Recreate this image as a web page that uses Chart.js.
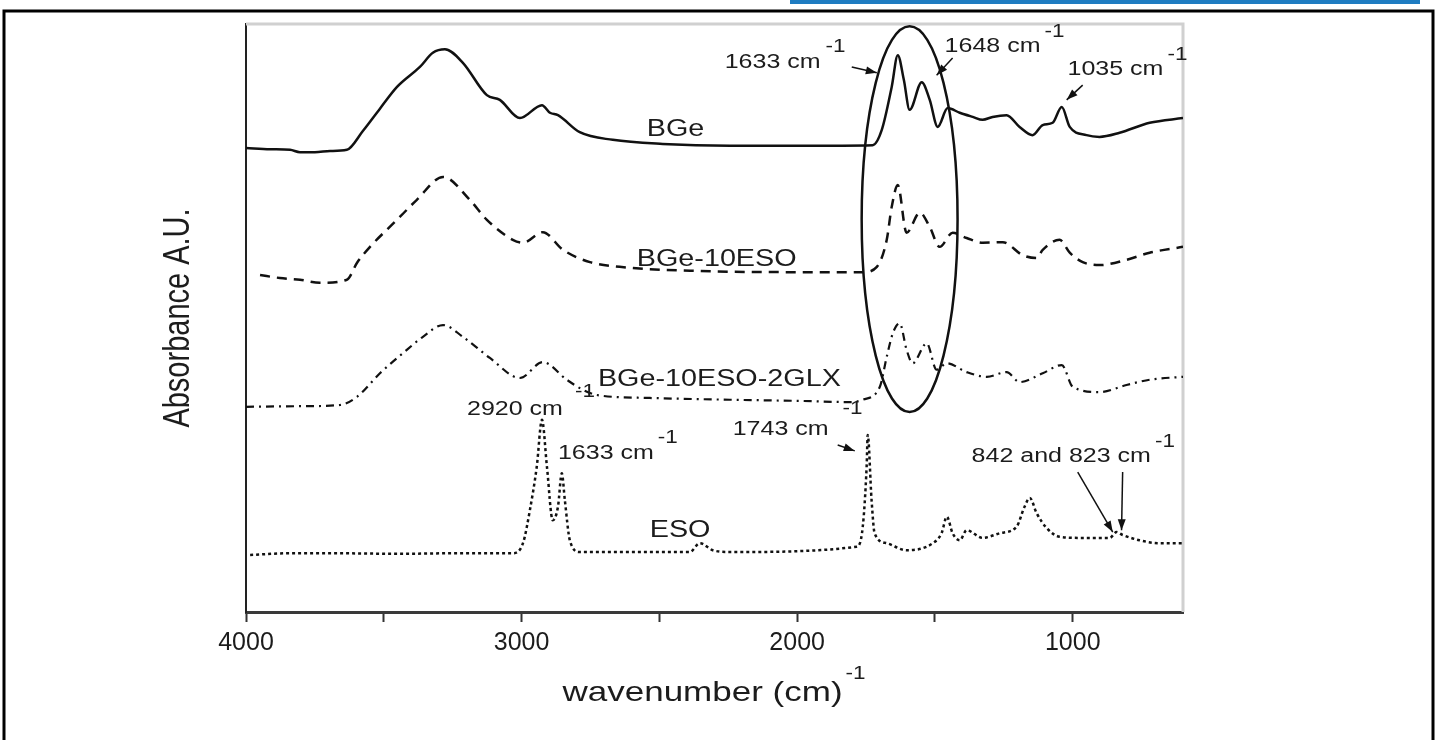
<!DOCTYPE html>
<html>
<head>
<meta charset="utf-8">
<script src="https://cdn.jsdelivr.net/npm/chart.js"></script>
<style>
html, body { margin: 0; padding: 0; background: #fff; }
#wrap { width: 1437px; height: 740px; }
</style>
</head>
<body>
<div id="wrap"><canvas id="ftir" width="1437" height="740"></canvas></div>
<script>
// FTIR spectra: wavenumber (cm-1) and stacked absorbance (A.U.)
const bgeWn  = [4000, 3913, 3840, 3804, 3750, 3695, 3634, 3576, 3514, 3452, 3369, 3322, 3278, 3213, 3126, 3079, 3006, 2926, 2897, 2868, 2789, 2669, 2488, 2244, 1991, 1726, 1693, 1657, 1635, 1613, 1592, 1548, 1519, 1490, 1454, 1410, 1363, 1327, 1291, 1240, 1193, 1146, 1109, 1073, 1040, 1011, 950, 903, 830, 721, 600];
const bgeAbs = [78.9, 78.7, 78.6, 78.2, 78.2, 78.4, 78.6, 81.8, 85.6, 89.3, 92.7, 95.1, 95.7, 93.4, 87.9, 87.1, 84.0, 86.2, 84.9, 84.5, 81.6, 80.3, 79.6, 79.3, 79.3, 79.4, 82.0, 89.3, 94.7, 90.5, 85.4, 90.1, 87.1, 82.5, 85.7, 84.9, 84.2, 83.7, 84.2, 84.5, 82.5, 81.1, 82.8, 83.2, 85.9, 82.5, 81.1, 80.8, 81.5, 83.2, 84.0];

const esoBgeWn  = [3949, 3877, 3804, 3732, 3634, 3597, 3550, 3452, 3380, 3285, 3188, 3126, 3032, 2995, 2923, 2850, 2752, 2644, 2353, 1991, 1762, 1711, 1675, 1657, 1635, 1603, 1555, 1519, 1483, 1436, 1385, 1327, 1254, 1182, 1131, 1109, 1048, 1011, 964, 903, 805, 721, 600];
const esoBgeAbs = [57.3, 56.8, 56.5, 56.0, 56.5, 59.4, 62.1, 66.7, 70.1, 74.0, 70.1, 66.7, 63.3, 62.8, 64.6, 61.6, 59.5, 58.7, 58.0, 57.8, 57.8, 58.7, 63.3, 68.9, 72.6, 64.5, 67.9, 65.5, 62.1, 64.5, 63.6, 62.8, 62.9, 60.7, 60.2, 61.6, 63.3, 61.1, 59.5, 59.0, 59.9, 61.1, 62.1];

const glxWn  = [4000, 3804, 3659, 3597, 3514, 3431, 3358, 3285, 3213, 3115, 3006, 2923, 2836, 2778, 2727, 2535, 2244, 1991, 1809, 1762, 1700, 1675, 1653, 1628, 1603, 1581, 1530, 1494, 1457, 1385, 1312, 1240, 1193, 1109, 1040, 1000, 903, 805, 721, 600];
const glxAbs = [34.9, 35.0, 35.2, 36.6, 40.6, 44.0, 46.8, 48.8, 46.8, 43.2, 39.8, 42.5, 39.5, 37.8, 36.9, 36.4, 36.1, 35.9, 35.7, 36.1, 38.3, 43.4, 47.4, 49.1, 44.6, 42.3, 45.7, 41.2, 42.3, 40.8, 40.0, 40.8, 39.1, 40.6, 42.0, 38.3, 37.4, 38.6, 39.5, 40.0];

const esoWn  = [3985, 3840, 3695, 3452, 3224, 3032, 2995, 2970, 2945, 2926, 2908, 2887, 2868, 2854, 2843, 2825, 2789, 2390, 2353, 2306, 2244, 1784, 1762, 1748, 1744, 1730, 1719, 1675, 1603, 1508, 1476, 1457, 1436, 1410, 1385, 1327, 1265, 1204, 1175, 1156, 1131, 1095, 1048, 964, 866, 841, 819, 758, 685, 600];
const esoAbs = [9.7, 10.0, 10.0, 9.9, 10.0, 10.0, 11.7, 17.3, 24.7, 32.7, 24.7, 15.6, 17.9, 23.6, 19.0, 12.2, 10.2, 10.2, 11.7, 10.5, 10.2, 11.1, 14.5, 24.7, 30.1, 19.0, 13.4, 11.7, 10.5, 11.7, 13.4, 16.2, 13.4, 12.2, 13.9, 12.6, 13.4, 14.5, 17.9, 19.4, 16.8, 14.3, 12.8, 12.6, 12.6, 13.6, 13.1, 12.2, 11.7, 11.7];

const xTickValues = [1000, 1500, 2000, 2500, 3000, 3500, 4000];
const xTickLabels = ['4000', '3000', '2000', '1000'];

// peak labels, in data units (wavenumber, absorbance)
const notes = [
    { text: '1633 cm', sup: '-1', wn: 2263, a: 93.4, size: 20, dx: 5, dy: -16 },
    { text: '1648 cm', sup: '-1', wn: 1465, a: 96.1, size: 20 },
    { text: '1035 cm', sup: '-1', wn: 1019, a: 92.2, size: 20 },
    { text: '2920 cm', sup: '-1', wn: 3198, a: 34.4, size: 20, dx: 12, dy: -18 },
    { text: '1633 cm', sup: '-1', wn: 2868, a: 27.0, size: 20 },
    { text: '1743 cm', sup: '-1', wn: 2234, a: 31.0, size: 20, dx: 14, dy: -21 },
    { text: '842 and 823 cm', sup: '-1', wn: 1367, a: 26.4, size: 20 },
    { text: 'BGe', wn: 2546, a: 82.1, size: 23 },
    { text: 'BGe-10ESO', wn: 2582, a: 59.9, size: 23 },
    { text: 'BGe-10ESO-2GLX', wn: 2723, a: 39.5, size: 23 },
    { text: 'ESO', wn: 2535, a: 13.8, size: 23 }
];
// arrows: from (wn, a) to (wn, a)
const arrows = [
    [1802, 92.7, 1711, 91.7],
    [1436, 94.2, 1494, 91.3],
    [964, 89.6, 1022, 87.1],
    [1853, 28.4, 1791, 27.4],
    [982, 23.8, 855, 13.6],
    [819, 23.8, 823, 13.9]
];
// circled amide region
const ring = { wn: 1592, a: 66.8, rwn: 174, ra: 32.8 };

const FONT = '"Liberation Sans", Arial, sans-serif';
const INK = '#1c1c1c';
const SX = 1.25; // the figure is stretched sideways

function pts(xs, ys) {
    return xs.map((x, i) => ({ x: x, y: ys[i] }));
}

function wideText(ctx, str, x, y, size, align) {
    ctx.save();
    ctx.font = size + 'px ' + FONT;
    ctx.fillStyle = INK;
    ctx.textBaseline = 'middle';
    ctx.textAlign = align || 'left';
    ctx.translate(x, y);
    ctx.scale(SX, 1);
    ctx.fillText(str, 0, 0);
    const w = ctx.measureText(str).width * SX;
    ctx.restore();
    return w;
}

const decor = {
    id: 'decor',
    beforeDraw(chart) {
        const ctx = chart.ctx;
        ctx.save();
        ctx.fillStyle = '#1f7cc1';
        ctx.fillRect(790, 0, 630, 4);
        ctx.strokeStyle = '#000';
        ctx.lineWidth = 3;
        ctx.strokeRect(4, 11, 1429, 760);
        ctx.restore();
    },
    beforeDatasetsDraw(chart) {
        const { ctx, chartArea: ca } = chart;
        ctx.save();
        ctx.strokeStyle = '#d0d0d0';
        ctx.lineWidth = 3;
        ctx.beginPath();
        ctx.moveTo(ca.left, ca.top);
        ctx.lineTo(ca.right, ca.top);
        ctx.lineTo(ca.right, ca.bottom);
        ctx.stroke();
        ctx.restore();
    },
    afterDatasetsDraw(chart) {
        const { ctx, chartArea: ca } = chart;
        const xs = chart.scales.x, ys = chart.scales.y;
        ctx.save();

        // ellipse
        const cx = xs.getPixelForValue(ring.wn), cy = ys.getPixelForValue(ring.a);
        const rx = Math.abs(xs.getPixelForValue(ring.wn + ring.rwn) - cx);
        const ry = Math.abs(ys.getPixelForValue(ring.a + ring.ra) - cy);
        ctx.strokeStyle = '#111';
        ctx.lineWidth = 2.5;
        ctx.beginPath();
        ctx.ellipse(cx, cy, rx, ry, 0, 0, Math.PI * 2);
        ctx.stroke();

        // arrows
        ctx.fillStyle = '#111';
        ctx.lineWidth = 1.5;
        arrows.forEach(a => {
            const x1 = xs.getPixelForValue(a[0]), y1 = ys.getPixelForValue(a[1]);
            const x2 = xs.getPixelForValue(a[2]), y2 = ys.getPixelForValue(a[3]);
            const ang = Math.atan2(y2 - y1, x2 - x1);
            ctx.beginPath();
            ctx.moveTo(x1, y1);
            ctx.lineTo(x2, y2);
            ctx.stroke();
            ctx.beginPath();
            ctx.moveTo(x2, y2);
            ctx.lineTo(x2 - 11 * Math.cos(ang) + 4 * Math.sin(ang), y2 - 11 * Math.sin(ang) - 4 * Math.cos(ang));
            ctx.lineTo(x2 - 11 * Math.cos(ang) - 4 * Math.sin(ang), y2 - 11 * Math.sin(ang) + 4 * Math.cos(ang));
            ctx.closePath();
            ctx.fill();
        });

        // labels
        notes.forEach(n => {
            const x = xs.getPixelForValue(n.wn), y = ys.getPixelForValue(n.a);
            const w = wideText(ctx, n.text, x, y, n.size);
            if (n.sup) {
                wideText(ctx, n.sup, x + w + (n.dx || 4), y + (n.dy || -15), 18);
            }
        });

        // axis titles
        const tx = (ca.left + ca.right) / 2 - 12;
        ctx.font = '28px ' + FONT;
        const full = ctx.measureText('wavenumber (cm)').width * SX;
        wideText(ctx, 'wavenumber (cm)', tx - full / 2, 693, 28);
        wideText(ctx, '-1', tx + full / 2 + 3, 674, 18);

        ctx.save();
        ctx.translate(179, (ca.top + ca.bottom) / 2);
        ctx.rotate(-Math.PI / 2);
        ctx.scale(1, SX);
        ctx.font = '29px ' + FONT;
        ctx.fillStyle = INK;
        ctx.textAlign = 'center';
        ctx.textBaseline = 'middle';
        ctx.fillText('Absorbance A.U.', 0, 0);
        ctx.restore();

        ctx.restore();
    }
};

const ctx = document.getElementById('ftir');

new Chart(ctx, {
    type: 'line',
    data: {
        datasets: [
            {
                label: 'BGe',
                data: pts(bgeWn, bgeAbs),
                borderColor: '#111',
                borderWidth: 2.5
            },
            {
                label: 'BGe-10ESO',
                data: pts(esoBgeWn, esoBgeAbs),
                borderColor: '#111',
                borderWidth: 2.5,
                borderDash: [10, 7]
            },
            {
                label: 'BGe-10ESO-2GLX',
                data: pts(glxWn, glxAbs),
                borderColor: '#111',
                borderWidth: 2.2,
                borderDash: [8, 5, 2, 5]
            },
            {
                label: 'ESO',
                data: pts(esoWn, esoAbs),
                borderColor: '#111',
                borderWidth: 2.5,
                borderDash: [3, 3]
            }
        ]
    },
    options: {
        responsive: false,
        animation: false,
        devicePixelRatio: 1,
        layout: { padding: { left: 0, top: 24, right: 254, bottom: 0 } },
        elements: {
            point: { radius: 0 },
            line: { cubicInterpolationMode: 'monotone', fill: false }
        },
        plugins: {
            legend: { display: false },
            tooltip: { enabled: false }
        },
        scales: {
            x: {
                type: 'linear',
                min: 600,
                max: 4000,
                reverse: true,
                afterBuildTicks: s => { s.ticks = xTickValues.map(v => ({ value: v })); },
                afterFit: s => { s.height = 128; },
                grid: {
                    display: true,
                    drawOnChartArea: false,
                    drawTicks: true,
                    tickLength: 10,
                    tickWidth: 2,
                    tickColor: '#333'
                },
                border: { display: true, color: '#3a3a3a', width: 3 },
                ticks: {
                    padding: 6,
                    color: INK,
                    font: { family: FONT, size: 25 },
                    maxRotation: 0,
                    autoSkip: false,
                    callback: v => xTickLabels.includes(String(v)) ? String(v) : ''
                }
            },
            y: {
                min: 0,
                max: 100,
                afterFit: s => { s.width = 246; },
                grid: { display: false },
                border: { display: true, color: '#222', width: 2 },
                ticks: { display: false }
            }
        }
    },
    plugins: [decor]
});
</script>
</body>
</html>
